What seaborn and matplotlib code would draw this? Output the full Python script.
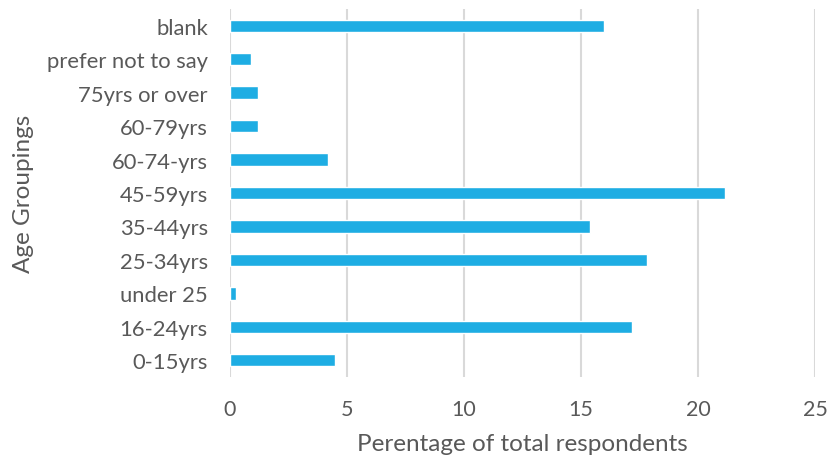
import matplotlib
matplotlib.use("Agg")
import matplotlib.pyplot as plt
import seaborn as sns
import pandas as pd

categories = ["blank", "prefer not to say", "75yrs or over", "60-79yrs", "60-74-yrs",
              "45-59yrs", "35-44yrs", "25-34yrs", "under 25", "16-24yrs", "0-15yrs"]
values = [16.0, 0.9, 1.2, 1.2, 4.2, 21.15, 15.4, 17.8, 0.25, 17.2, 4.5]
x_ticks = [0, 5, 10, 15, 20, 25]

sns.set_theme(style="white")
plt.rcParams["font.family"] = ["Lato", "DejaVu Sans"]

df = pd.DataFrame({"Age": categories, "Pct": values})

fig = plt.figure(figsize=(8.3, 4.6), dpi=100)
ax = fig.add_axes([230/830, 1 - 378/460, (815-230)/830, (378-10)/460])
sns.barplot(data=df, y="Age", x="Pct", order=categories, color="#1EADE3",
            saturation=1, width=0.37, ax=ax)

text_c = "#595959"
ax.set_xlim(0, 25)
ax.set_xticks(x_ticks)
ax.set_xticklabels([str(t) for t in x_ticks], color=text_c, fontsize=15.5)
ax.tick_params(axis="y", labelsize=15.8, labelcolor=text_c, length=0, pad=16)
ax.tick_params(axis="x", length=0, pad=16)
ax.grid(axis="x", color="#D9D9D9", linewidth=1.5)
ax.set_axisbelow(True)
for s in ax.spines.values():
    s.set_visible(False)
ax.set_xlabel("Perentage of total respondents", color=text_c, fontsize=17.5, labelpad=10)
ax.set_ylabel("Age Groupings", color=text_c, fontsize=17.5, labelpad=9)

fig.savefig("out.png", dpi=100)
